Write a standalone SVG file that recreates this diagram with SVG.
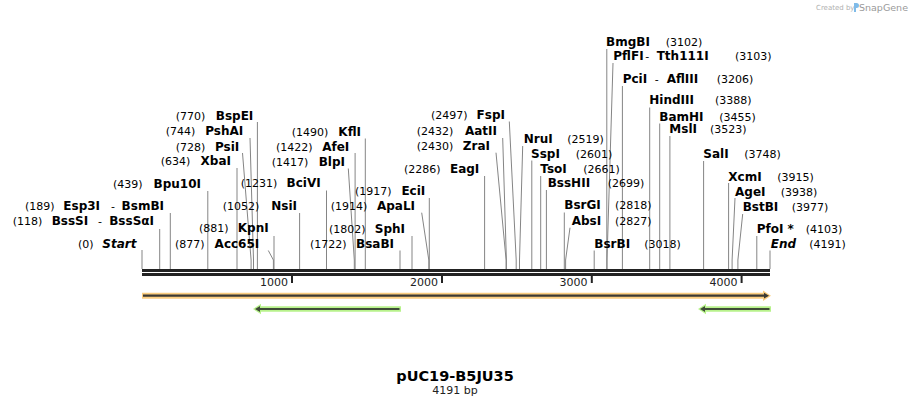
<svg xmlns="http://www.w3.org/2000/svg" width="913" height="408" viewBox="0 0 913 408">
<style>
text{font-family:"DejaVu Sans","Verdana","Liberation Sans",sans-serif;fill:#000}
.n{font-size:11px}
.b{font-size:12px;font-weight:bold}
.bi{font-size:12px;font-weight:bold;font-style:italic}
.e{text-anchor:end}
.m{text-anchor:middle}
.tk{font-size:11px;fill:#222;text-anchor:end}
#connectors line,#connectors polyline{stroke:#858585;stroke-width:1;fill:none}
.tick{fill:#222}
</style>
<rect width="913" height="408" fill="#fff"/>

<g id="credit">
<text x="816" y="10" style="font-size:7px;fill:#b0b0b0">Created by</text>
<path d="M854,3 h2.5 a2.5,2.5 0 0 1 0,5 h-0.5 v4 h-2 z" fill="#7fbbe8"/>
<text x="859" y="11" style="font-size:9.5px;fill:#9a9a9a">SnapGene</text>
</g>

<g id="connectors">
<line x1="142" y1="250" x2="142" y2="269"/>
<line x1="159.7" y1="229" x2="159.7" y2="269"/>
<line x1="170.3" y1="213" x2="170.3" y2="269"/>
<line x1="207.8" y1="191" x2="207.8" y2="269"/>
<line x1="237" y1="168" x2="237" y2="269"/>
<polyline points="242.5,153 251.1,260 251.1,269"/>
<polyline points="250,138 253.5,260 253.5,269"/>
<line x1="257.4" y1="122" x2="257.4" y2="269"/>
<polyline points="268.3,250.5 273.4,260 273.4,269"/>
<line x1="274" y1="236" x2="274" y2="269"/>
<line x1="299.6" y1="213" x2="299.6" y2="269"/>
<line x1="326.5" y1="190.5" x2="326.5" y2="269"/>
<polyline points="348.3,168.5 354.3,260 354.3,269"/>
<line x1="355.1" y1="153" x2="355.1" y2="269"/>
<line x1="365.3" y1="138.5" x2="365.3" y2="269"/>
<line x1="400" y1="250.5" x2="400" y2="269"/>
<line x1="412" y1="236" x2="412" y2="269"/>
<polyline points="421.7,212.7 428.8,260 428.8,269"/>
<line x1="429.3" y1="198" x2="429.3" y2="269"/>
<line x1="484.6" y1="176" x2="484.6" y2="269"/>
<polyline points="496,152.7 506.1,260 506.1,269"/>
<polyline points="502.7,138 506.4,260 506.4,269"/>
<polyline points="509.3,121.5 516.2,260 516.2,269"/>
<polyline points="522.7,146 519.5,260 519.5,269"/>
<line x1="531.8" y1="160.5" x2="531.8" y2="269"/>
<line x1="540.7" y1="176" x2="540.7" y2="269"/>
<line x1="546.4" y1="190" x2="546.4" y2="269"/>
<line x1="564.3" y1="212.5" x2="564.3" y2="269"/>
<polyline points="570,227.7 565.6,260 565.6,269"/>
<line x1="594.2" y1="250.5" x2="594.2" y2="269"/>
<line x1="606.8" y1="49" x2="606.8" y2="269"/>
<polyline points="613,63 607,260 607,269"/>
<line x1="622.4" y1="86" x2="622.4" y2="269"/>
<line x1="649.7" y1="107.5" x2="649.7" y2="269"/>
<line x1="659.7" y1="123.5" x2="659.7" y2="269"/>
<line x1="669.9" y1="136" x2="669.9" y2="269"/>
<line x1="703.6" y1="161" x2="703.6" y2="269"/>
<line x1="728.6" y1="183" x2="728.6" y2="269"/>
<polyline points="735,198 732.1,260 732.1,269"/>
<polyline points="742.7,214 737.9,260 737.9,269"/>
<line x1="756.8" y1="236" x2="756.8" y2="269"/>
<line x1="770" y1="250.5" x2="770" y2="269"/>
</g>

<g id="backbone">
<rect x="142" y="269" width="628" height="3" fill="#222"/>
<rect x="142" y="273" width="628" height="3" fill="#222"/>
<rect class="tick" x="291" y="275.5" width="2" height="7.5"/>
<rect class="tick" x="441" y="275.5" width="2" height="7.5"/>
<rect class="tick" x="590.8" y="275.5" width="2" height="7.5"/>
<rect class="tick" x="740.6" y="275.5" width="2" height="7.5"/>
<text class="tk" x="288" y="286">1000</text>
<text class="tk" x="438" y="286">2000</text>
<text class="tk" x="587.5" y="286">3000</text>
<text class="tk" x="737.5" y="286">4000</text>
</g>

<g id="feature-orange">
<path d="M142,292.8 H763 V290.5 L771,295.8 L763,301 V298.8 H142 Z" fill="#fbcd80"/>
<path d="M143,294.6 H764 V292.8 L769,295.7 L764,298.6 V296.8 H143 Z" fill="#3c3a33"/>
</g>
<g id="feature-green-1">
<path d="M401,306.2 H261 V303.8 L253,309 L261,314.2 V311.8 H401 Z" fill="#b8f28c"/>
<path d="M399.5,308 H260 V306 L255,309 L260,312 V310 H399.5 Z" fill="#3f4c38"/>
</g>
<g id="feature-green-2">
<path d="M771,306.2 H706 V303.8 L698,309 L706,314.2 V311.8 H771 Z" fill="#b8f28c"/>
<path d="M769.5,308 H705 V306 L700,309 L705,312 V310 H769.5 Z" fill="#3f4c38"/>
</g>

<g id="site-Start"><text class="n" x="78" y="248.3">(0)</text><text class="bi e" x="136.5" y="248.3">Start</text></g>
<g id="site-BssSI"><text class="n" x="12.7" y="225">(118)</text><text class="b" x="51.7" y="225">BssSI</text><text class="n m" x="100" y="225">-</text><text class="b e" x="154" y="225">BssSαI</text></g>
<g id="site-Esp3I"><text class="n" x="25" y="210">(189)</text><text class="b" x="63.3" y="210">Esp3I</text><text class="n m" x="113" y="210">-</text><text class="b e" x="164" y="210">BsmBI</text></g>
<g id="site-Bpu10I"><text class="n" x="113" y="188">(439)</text><text class="b e" x="201" y="188">Bpu10I</text></g>
<g id="site-XbaI"><text class="n" x="160.7" y="165">(634)</text><text class="b e" x="231" y="165">XbaI</text></g>
<g id="site-PsiI"><text class="n" x="175.7" y="150.5">(728)</text><text class="b e" x="239.3" y="150.5">PsiI</text></g>
<g id="site-PshAI"><text class="n" x="165.7" y="135">(744)</text><text class="b e" x="243.3" y="135">PshAI</text></g>
<g id="site-BspEI"><text class="n" x="175.7" y="120">(770)</text><text class="b e" x="253.3" y="120">BspEI</text></g>
<g id="site-Acc65I"><text class="n" x="175" y="248.3">(877)</text><text class="b e" x="259.3" y="248.3">Acc65I</text></g>
<g id="site-KpnI"><text class="n" x="199" y="232.3">(881)</text><text class="b e" x="268.7" y="232.3">KpnI</text></g>
<g id="site-NsiI"><text class="n" x="222.7" y="210">(1052)</text><text class="b e" x="297" y="210">NsiI</text></g>
<g id="site-BciVI"><text class="n" x="240.7" y="187.3">(1231)</text><text class="b e" x="320.7" y="187.3">BciVI</text></g>
<g id="site-BlpI"><text class="n" x="271.7" y="166">(1417)</text><text class="b e" x="345" y="166">BlpI</text></g>
<g id="site-AfeI"><text class="n" x="276" y="150.7">(1422)</text><text class="b e" x="349.3" y="150.7">AfeI</text></g>
<g id="site-KflI"><text class="n" x="291.7" y="136">(1490)</text><text class="b e" x="361" y="136">KflI</text></g>
<g id="site-BsaBI"><text class="n" x="310" y="248.3">(1722)</text><text class="b e" x="394" y="248.3">BsaBI</text></g>
<g id="site-SphI"><text class="n" x="329" y="233.3">(1802)</text><text class="b e" x="405" y="233.3">SphI</text></g>
<g id="site-ApaLI"><text class="n" x="330.7" y="210">(1914)</text><text class="b e" x="415" y="210">ApaLI</text></g>
<g id="site-EciI"><text class="n" x="355" y="195">(1917)</text><text class="b e" x="425.3" y="195">EciI</text></g>
<g id="site-EagI"><text class="n" x="404" y="173.3">(2286)</text><text class="b e" x="479.3" y="173.3">EagI</text></g>
<g id="site-ZraI"><text class="n" x="416.7" y="150">(2430)</text><text class="b e" x="490" y="150">ZraI</text></g>
<g id="site-AatII"><text class="n" x="416.7" y="135">(2432)</text><text class="b e" x="497" y="135">AatII</text></g>
<g id="site-FspI"><text class="n" x="431" y="119.3">(2497)</text><text class="b e" x="505" y="119.3">FspI</text></g>

<g id="site-NruI"><text class="b" x="523.7" y="143.3">NruI</text><text class="n" x="567.3" y="143.3">(2519)</text></g>
<g id="site-SspI"><text class="b" x="531" y="157.5">SspI</text><text class="n" x="575.7" y="157.5">(2601)</text></g>
<g id="site-TsoI"><text class="b" x="540.3" y="173">TsoI</text><text class="n" x="583.3" y="173">(2661)</text></g>
<g id="site-BssHII"><text class="b" x="547.7" y="187.3">BssHII</text><text class="n" x="607.7" y="187.3">(2699)</text></g>
<g id="site-BsrGI"><text class="b" x="564.3" y="209.3">BsrGI</text><text class="n" x="615" y="209.3">(2818)</text></g>
<g id="site-AbsI"><text class="b" x="571.7" y="224.5">AbsI</text><text class="n" x="615" y="224.5">(2827)</text></g>
<g id="site-BsrBI"><text class="b" x="594.3" y="248.3">BsrBI</text><text class="n" x="644.3" y="248.3">(3018)</text></g>
<g id="site-BmgBI"><text class="b" x="606" y="46">BmgBI</text><text class="n" x="665.7" y="46">(3102)</text></g>
<g id="site-PflFI"><text class="b" x="613.3" y="60">PflFI</text><text class="n m" x="647.3" y="60">-</text><text class="b" x="656.7" y="60">Tth111I</text><text class="n" x="735" y="60">(3103)</text></g>
<g id="site-PciI"><text class="b" x="622.7" y="82.7">PciI</text><text class="n m" x="656.7" y="82.7">-</text><text class="b" x="666.7" y="82.7">AflIII</text><text class="n" x="716.7" y="82.7">(3206)</text></g>
<g id="site-HindIII"><text class="b" x="649.3" y="104">HindIII</text><text class="n" x="715" y="104">(3388)</text></g>
<g id="site-BamHI"><text class="b" x="659.3" y="120.7">BamHI</text><text class="n" x="719.3" y="120.7">(3455)</text></g>
<g id="site-MslI"><text class="b" x="669.3" y="132.7">MslI</text><text class="n" x="710" y="132.7">(3523)</text></g>
<g id="site-SalI"><text class="b" x="703.3" y="157.7">SalI</text><text class="n" x="744.3" y="157.7">(3748)</text></g>
<g id="site-XcmI"><text class="b" x="728.3" y="180.5">XcmI</text><text class="n" x="777.3" y="180.5">(3915)</text></g>
<g id="site-AgeI"><text class="b" x="735" y="195.5">AgeI</text><text class="n" x="780.7" y="195.5">(3938)</text></g>
<g id="site-BstBI"><text class="b" x="742.7" y="211">BstBI</text><text class="n" x="791.7" y="211">(3977)</text></g>
<g id="site-PfoI"><text class="b" x="756.7" y="233.3">PfoI *</text><text class="n" x="805.7" y="233.3">(4103)</text></g>
<g id="site-End"><text class="bi" x="770.7" y="248.3">End</text><text class="n" x="809.3" y="248.3">(4191)</text></g>

<g id="title">
<text x="455" y="381" style="font-size:14.5px;font-weight:bold;text-anchor:middle">pUC19-B5JU35</text>
<text x="455" y="393.5" style="font-size:11px;text-anchor:middle;fill:#222">4191 bp</text>
</g>
</svg>
